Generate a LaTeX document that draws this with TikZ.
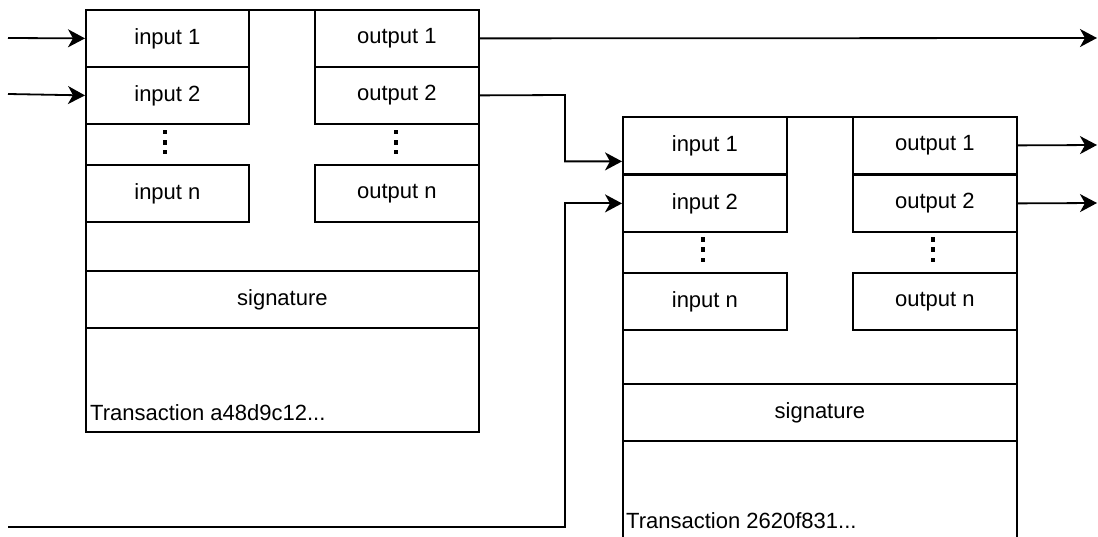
\documentclass[tikz,border=0pt]{standalone}
\usepackage{fontspec}
\setmainfont{Liberation Sans}
\usetikzlibrary{arrows.meta,calc}
\tikzset{
  lw/.style={line width=1.8pt},
  txbox/.style={draw, lw, rectangle, inner sep=0pt, anchor=north west},
  cell/.style={draw, lw, rectangle, inner sep=0pt, anchor=north west,
    minimum width=164pt, minimum height=57pt, font=\fontsize{22}{25}\selectfont},
  sigcell/.style={cell, minimum width=393pt},
  txlabel/.style={anchor=base west, inner sep=0pt, font=\fontsize{22}{25}\selectfont},
  tipshape/.tip={Stealth[length=17pt 0, width=18pt 0, inset=5pt 0]},
  conn/.style={lw, -tipshape},
  vdot/.style={fill=black}
}
\begin{document}
\begin{tikzpicture}[x=1pt,y=-1pt]
\useasboundingbox (0,0) rectangle (1098,537);
\clip (0,0) rectangle (1098,537);
\fill[white] (0,0) rectangle (1098,537);

% ---------- Transaction 1 ----------
\node[txbox, minimum width=393pt, minimum height=422pt] (t1) at (85,9) {};
\node[cell, minimum width=163pt] (i11) at (85,9) {input 1};
\node[cell, minimum width=163pt] (i12) at (85,66) {input 2};
\node[cell, minimum width=163pt] (i1n) at (85,164) {input n};
\node[cell] (o11) at (314,9) {output 1};
\node[cell] (o12) at (314,66) {output 2};
\node[cell] (o1n) at (314,164) {output n};
\node[sigcell] (s1) at (85,270) {signature};
\node[txlabel] (l1) at (90,420) {Transaction a48d9c12...};
\foreach \cx/\cy in {165/132, 165/142.5, 165/152, 396/132, 396/142.5, 396/152}
  \fill[vdot] (\cx-2.3,\cy-2.3) rectangle (\cx+2.3,\cy+2.3);

% ---------- Transaction 2 ----------
\node[txbox, minimum width=394pt, minimum height=460pt] (t2) at (622,116) {};
\node[cell] (i21) at (622,116) {input 1};
\node[cell] (i22) at (622,174) {input 2};
\node[cell] (i2n) at (622,272) {input n};
\node[cell] (o21) at (852,116) {output 1};
\node[cell] (o22) at (852,174) {output 2};
\node[cell] (o2n) at (852,272) {output n};
\node[sigcell, minimum width=394pt] (s2) at (622,383) {signature};
\node[txlabel] (l2) at (626,528) {Transaction 2620f831...};
\foreach \cx/\cy in {703/239.5, 703/249.5, 703/260, 933/239.5, 933/249.5, 933/260}
  \fill[vdot] (\cx-2.3,\cy-2.3) rectangle (\cx+2.3,\cy+2.3);

% ---------- connectors ----------
\coordinate (a1) at (8,38);
\coordinate (a2) at (8,94);
\coordinate (a3) at (8,527);
\coordinate (b3) at (565,527);
\coordinate (b2) at (565,95);
\coordinate (e1) at (1097,38);
\coordinate (e2) at (1097,145);
\coordinate (e3) at (1097,203);

\draw[conn] (a1) -- (i11.west);
\draw[conn] (a2) -- (i12.west);
\draw[conn] (o11.east) -- (e1);
\draw[conn] (o12.east) -- (b2) |- ($(i21.west)+(0,16)$);
\draw[conn] (a3) -- (b3) |- (i22.west);
\draw[conn] (o21.east) -- (e2);
\draw[conn] (o22.east) -- (e3);
\end{tikzpicture}
\end{document}
